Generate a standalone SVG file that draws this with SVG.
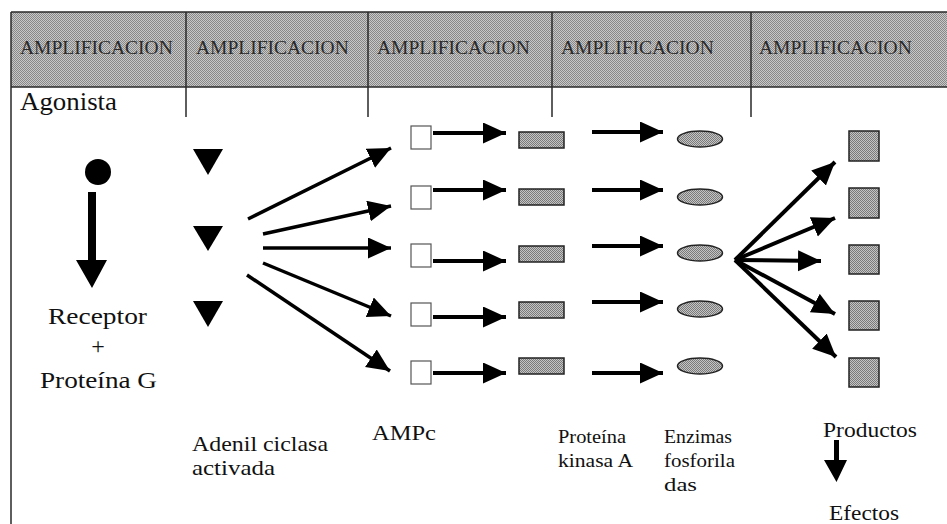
<svg xmlns="http://www.w3.org/2000/svg" width="947" height="524" viewBox="0 0 947 524">
<style>
  .hdr { font-family: "Liberation Serif", "Times New Roman", serif; font-size: 19.5px; fill: #2a2a2a; }
  .lbl { font-family: "Liberation Serif", "Times New Roman", serif; fill: #111; }
  .grid { stroke: #2a2a2a; stroke-width: 1.5; fill: none; }
  .conn { stroke: #000; stroke-width: 4; fill: none; }
  .thin { stroke: #000; stroke-width: 3.5; fill: none; }
  .amp { fill: #fff; stroke: #555; stroke-width: 1.2; }
  .gray { fill: url(#chk); stroke: #222; stroke-width: 1.5; }
</style>
<defs>
  <pattern id="chk" width="2" height="2" patternUnits="userSpaceOnUse">
    <rect width="2" height="2" fill="#c4c4c4"/>
    <rect width="1" height="1" fill="#7a7a7a"/>
    <rect x="1" y="1" width="1" height="1" fill="#7a7a7a"/>
  </pattern>
  <pattern id="hchk" width="2" height="2" patternUnits="userSpaceOnUse">
    <rect width="2" height="2" fill="#c8c8c8"/>
    <rect width="1" height="1" fill="#888"/>
    <rect x="1" y="1" width="1" height="1" fill="#888"/>
  </pattern>
  <marker id="ah" markerUnits="userSpaceOnUse" markerWidth="26" markerHeight="22" refX="23" refY="10.5" orient="auto">
    <path d="M0,0 L23,10.5 L0,21 z" fill="#000"/>
  </marker>
</defs>
<rect width="947" height="524" fill="#fff"/>

<g id="header">
  <rect x="11" y="12" width="936" height="75" fill="url(#hchk)"/>
  <path class="grid" d="M11,12 H947 M11,87 H947 M11,12 V524 M186,12 V117 M368,12 V117 M552,12 V117 M751,12 V117"/>
  <text class="hdr" x="20" y="54">AMPLIFICACION</text>
  <text class="hdr" x="196" y="54">AMPLIFICACION</text>
  <text class="hdr" x="377" y="54">AMPLIFICACION</text>
  <text class="hdr" x="561" y="54">AMPLIFICACION</text>
  <text class="hdr" x="759" y="54">AMPLIFICACION</text>
</g>

<g id="agonista">
  <text class="lbl" x="20" y="110" font-size="25" textLength="97" lengthAdjust="spacingAndGlyphs">Agonista</text>
  <circle cx="98" cy="172" r="13" fill="#000"/>
</g>

<g id="receptor">
  <text class="lbl" x="48" y="324" font-size="24" textLength="99" lengthAdjust="spacingAndGlyphs">Receptor</text>
  <text class="lbl" x="98" y="354" font-size="24" text-anchor="middle">+</text>
  <text class="lbl" x="40" y="388" font-size="24" textLength="117" lengthAdjust="spacingAndGlyphs">Proteína G</text>
</g>

<g id="adenil-ciclasa">
  <polygon points="193,149 223,149 208,175" fill="#000"/>
  <polygon points="193,226 223,226 208,251" fill="#000"/>
  <polygon points="193,301 223,301 208,327" fill="#000"/>
  <text class="lbl" x="192" y="451" font-size="21" textLength="136" lengthAdjust="spacingAndGlyphs">Adenil ciclasa</text>
  <text class="lbl" x="192" y="475" font-size="21" textLength="83" lengthAdjust="spacingAndGlyphs">activada</text>
</g>

<g id="ampc">
  <rect class="amp" x="411" y="126" width="20" height="23"/>
  <rect class="amp" x="411" y="186" width="20" height="23"/>
  <rect class="amp" x="411" y="244" width="20" height="23"/>
  <rect class="amp" x="411" y="303" width="20" height="23"/>
  <rect class="amp" x="411" y="361" width="20" height="23"/>
  <text class="lbl" x="372" y="440" font-size="21" textLength="64" lengthAdjust="spacingAndGlyphs">AMPc</text>
</g>

<g id="proteina-kinasa">
  <rect class="gray" x="519" y="132" width="45" height="16"/>
  <rect class="gray" x="519" y="189" width="45" height="16"/>
  <rect class="gray" x="519" y="246" width="45" height="16"/>
  <rect class="gray" x="519" y="302" width="45" height="16"/>
  <rect class="gray" x="519" y="358" width="45" height="16"/>
  <text class="lbl" x="558" y="443" font-size="19" textLength="68" lengthAdjust="spacingAndGlyphs">Proteína</text>
  <text class="lbl" x="558" y="467" font-size="19" textLength="75" lengthAdjust="spacingAndGlyphs">kinasa A</text>
</g>

<g id="enzimas">
  <ellipse class="gray" cx="700" cy="139" rx="22.5" ry="8"/>
  <ellipse class="gray" cx="700" cy="197" rx="22.5" ry="8"/>
  <ellipse class="gray" cx="700" cy="253" rx="22.5" ry="8"/>
  <ellipse class="gray" cx="700" cy="309" rx="22.5" ry="8"/>
  <ellipse class="gray" cx="700" cy="366" rx="22.5" ry="8"/>
  <text class="lbl" x="664" y="443" font-size="19" textLength="68" lengthAdjust="spacingAndGlyphs">Enzimas</text>
  <text class="lbl" x="664" y="467" font-size="19" textLength="71" lengthAdjust="spacingAndGlyphs">fosforila</text>
  <text class="lbl" x="664" y="491" font-size="19" textLength="33" lengthAdjust="spacingAndGlyphs">das</text>
</g>

<g id="productos">
  <rect class="gray" x="849" y="131" width="30" height="30"/>
  <rect class="gray" x="849" y="188" width="30" height="30"/>
  <rect class="gray" x="849" y="245" width="30" height="29"/>
  <rect class="gray" x="849" y="301" width="30" height="29"/>
  <rect class="gray" x="849" y="358" width="30" height="29"/>
  <text class="lbl" x="823" y="437" font-size="22" textLength="94" lengthAdjust="spacingAndGlyphs">Productos</text>
</g>

<g id="efectos">
  <text class="lbl" x="829" y="520" font-size="21" textLength="70" lengthAdjust="spacingAndGlyphs">Efectos</text>
</g>

<g id="connectors">
  <path d="M88,192 H96 V260 H107 L92,288 L76,260 H88 Z" fill="#000"/>
  <line class="thin" x1="248" y1="219" x2="391" y2="148" marker-end="url(#ah)"/>
  <line class="thin" x1="263" y1="234" x2="391" y2="206" marker-end="url(#ah)"/>
  <line class="thin" x1="263" y1="248" x2="391" y2="248" marker-end="url(#ah)"/>
  <line class="thin" x1="263" y1="263" x2="391" y2="316" marker-end="url(#ah)"/>
  <line class="thin" x1="247" y1="275" x2="390" y2="371" marker-end="url(#ah)"/>

  <line class="conn" x1="433" y1="133" x2="506" y2="133" marker-end="url(#ah)"/>
  <line class="conn" x1="433" y1="190" x2="506" y2="190" marker-end="url(#ah)"/>
  <line class="conn" x1="433" y1="261" x2="506" y2="261" marker-end="url(#ah)"/>
  <line class="conn" x1="433" y1="317" x2="506" y2="317" marker-end="url(#ah)"/>
  <line class="conn" x1="433" y1="373" x2="506" y2="373" marker-end="url(#ah)"/>

  <line class="conn" x1="592" y1="132" x2="663" y2="132" marker-end="url(#ah)"/>
  <line class="conn" x1="592" y1="190" x2="663" y2="190" marker-end="url(#ah)"/>
  <line class="conn" x1="592" y1="246" x2="663" y2="246" marker-end="url(#ah)"/>
  <line class="conn" x1="592" y1="302" x2="663" y2="302" marker-end="url(#ah)"/>
  <line class="conn" x1="592" y1="373" x2="663" y2="373" marker-end="url(#ah)"/>

  <line class="conn" x1="735" y1="260" x2="835" y2="162" marker-end="url(#ah)"/>
  <line class="conn" x1="735" y1="260" x2="835" y2="218" marker-end="url(#ah)"/>
  <line class="conn" x1="735" y1="260" x2="821" y2="261" marker-end="url(#ah)"/>
  <line class="conn" x1="735" y1="260" x2="835" y2="314" marker-end="url(#ah)"/>
  <line class="conn" x1="735" y1="260" x2="836" y2="357" marker-end="url(#ah)"/>

  <path d="M834,440 H839 V460 H847 L836.5,482 L824,460 H834 Z" fill="#000"/>
</g>
</svg>
